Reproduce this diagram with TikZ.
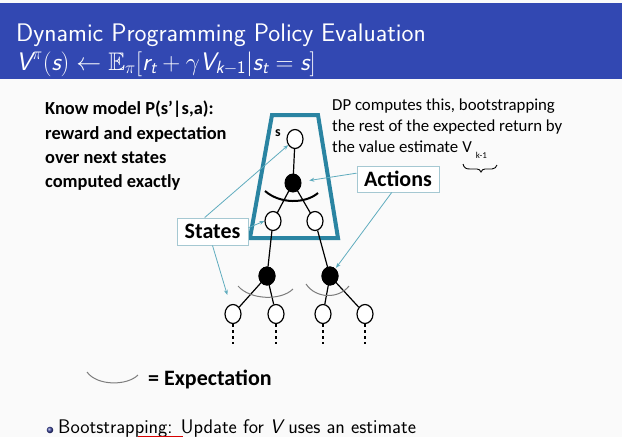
\documentclass[tikz,border=0pt]{standalone}
\usepackage{amsmath,amssymb}
\usepackage{fontspec}
\newfontfamily\carl{Carlito}
\usetikzlibrary{arrows.meta,shapes.geometric}
\definecolor{titlebg}{RGB}{50,72,178}
\definecolor{bodybg}{RGB}{250,250,250}
\definecolor{trapc}{RGB}{42,132,162}
\definecolor{connc}{RGB}{95,172,190}
\definecolor{boxc}{RGB}{165,200,210}
\definecolor{arcg}{RGB}{125,125,125}
\definecolor{bulletc}{RGB}{60,70,160}
\newcommand{\sfi}[1]{\text{\sffamily\itshape #1}}
\newcommand{\sfu}[1]{\text{\sffamily #1}}
\tikzset{
  stnode/.style={ellipse, draw=black, line width=1.2pt, fill=white, minimum width=16pt, minimum height=19pt, inner sep=0pt},
  actnode/.style={ellipse, draw=black, line width=1pt, fill=black, minimum width=16pt, minimum height=18pt, inner sep=0pt},
  edge/.style={draw=black, line width=1.2pt},
  conn/.style={draw=connc, line width=0.8pt, -{Stealth[length=5pt,width=4pt]}},
  lbox/.style={draw=boxc, line width=1pt, fill=white, font=\carl\bfseries\fontsize{22}{24}\selectfont, inner sep=0pt, minimum width=71pt, minimum height=27pt},
  trap/.style={draw=trapc, line width=4pt, line join=miter},
  exparc/.style={draw=arcg, line width=1pt},
  leafdash/.style={draw=black, line width=1.2pt, dash pattern=on 3pt off 3pt},
}
\begin{document}
\begin{tikzpicture}[x=1pt,y=-1pt]
\useasboundingbox (0,0) rectangle (622,437);
\fill[bodybg] (0,0) rectangle (622,437);
\fill[titlebg] (0,3) rectangle (622,79);
% title
\node[anchor=base west, inner sep=0pt, text=white, font=\sffamily\fontsize{25.4}{28}\selectfont] (title) at (16,41) {Dynamic Programming Policy Evaluation};
\node[anchor=base west, inner sep=0pt, text=white, font=\sffamily\fontsize{25.4}{28}\selectfont] (formula) at (16,70)
  {$\sfi{V}^{\pi}(\sfi{s}) \leftarrow \mathbb{E}_{\pi}[\sfi{r}_{\sfi{t}} + \gamma \sfi{V}_{\sfi{k}-\sfu{1}} | \sfi{s}_{\sfi{t}} = \sfi{s}]$};
% left text
\node[anchor=north west, inner sep=0pt, align=left, font=\carl\bfseries\fontsize{18.4}{24}\selectfont] (know) at (45,101)
  {Know model P(s’|s,a):\\[1pt] reward and expectation\\ over next states\\ computed exactly};
% right text
\node[anchor=north west, inner sep=0pt, align=left, font=\carl\fontsize{16.8}{21}\selectfont] (dp) at (332,99)
  {DP computes this, bootstrapping\\ the rest of the expected return by\\ the value estimate\hspace{4pt}V\hspace{4pt}\raisebox{-6pt}{\fontsize{9}{9}\selectfont k-1}};
\draw[black, line width=0.9pt] (463,164) .. controls (464,168) and (466,169) .. (470,169) -- (477,169) .. controls (479,169) and (480,170) .. (481,172) .. controls (482,170) and (483,169) .. (485,169) -- (492,169) .. controls (495,169) and (496,167) .. (497,165);
% trapezoid
\draw[trap] (272,115) -- (318,115) -- (338,238) -- (250,238) -- cycle;
% tree nodes
\coordinate (s0c) at (295,139);
\coordinate (a0c) at (293,183);
\draw[edge] (s0c) -- (a0c);
\draw[edge] (a0c) -- (273,221);
\draw[edge] (a0c) -- (315,221);
\node[stnode] (s0) at (s0c) {};
\node[anchor=base, inner sep=0pt, font=\carl\bfseries\fontsize{14}{14}\selectfont] (slab) at (278,136) {s};
\node[stnode] (c1) at (273,221) {};
\node[stnode] (c2) at (315,221) {};
\node[actnode] (a1) at (267,276) {};
\node[actnode] (a2) at (330,276) {};
\node[stnode] (l1) at (233,314) {};
\node[stnode] (l2) at (276,314) {};
\node[stnode] (l3) at (323,314) {};
\node[stnode] (l4) at (365,314) {};
\draw[edge] (c1) -- (a1);
\draw[edge] (c2) -- (a2);
\draw[edge] (a1.center) -- (l1);
\draw[edge] (a1.center) -- (l2);
\draw[edge] (a2.center) -- (l3);
\draw[edge] (a2.center) -- (l4);
\node[actnode] (a0) at (a0c) {};
\node[actnode] (a1b) at (267,276) {};
\node[actnode] (a2b) at (330,276) {};
\draw[black, line width=2pt] (265,191) .. controls (280,204) and (305,204) .. (318,193);
\draw[exparc] (238,286) .. controls (250,300) and (281,301) .. (293,289);
\draw[exparc] (306,284) .. controls (316,299) and (339,299) .. (349,286);
\foreach \l in {l1,l2,l3,l4} \draw[leafdash] (\l.south) -- ++(0,20);
% label boxes
\node[lbox] (st) at (212.5,231.5) {States};
\node[lbox, minimum width=82pt, minimum height=26pt] (ac) at (398,179) {Actions};
\draw[conn] (st.119) -- (s0.222);
\draw[conn] (st.6) -- (c1.west);
\draw[conn, shorten >=10pt] (st.south) -- (l1);
\draw[conn, shorten >=8pt] (ac.172) -- (a0);
\draw[conn, shorten >=1pt] (ac.245) -- (a2b);
% expectation legend
\draw[exparc] (87,372) .. controls (97,386) and (127,386) .. (138,375);
\node[anchor=west, inner sep=0pt, font=\carl\bfseries\fontsize{22}{24}\selectfont] (exp) at (148,379) {= Expectation};
% bullet
\shade[ball color=bulletc] (50,430) circle (3.3pt);
\node[anchor=base west, inner sep=0pt, font=\sffamily\fontsize{19.7}{22}\selectfont] (boot) at (58,433) {Bootstrapping: Update for $\sfi{V}$ uses an estimate};
\draw[red!85!black, line width=2pt] (138,436.5) -- (183,436.5);
\end{tikzpicture}
\end{document}
